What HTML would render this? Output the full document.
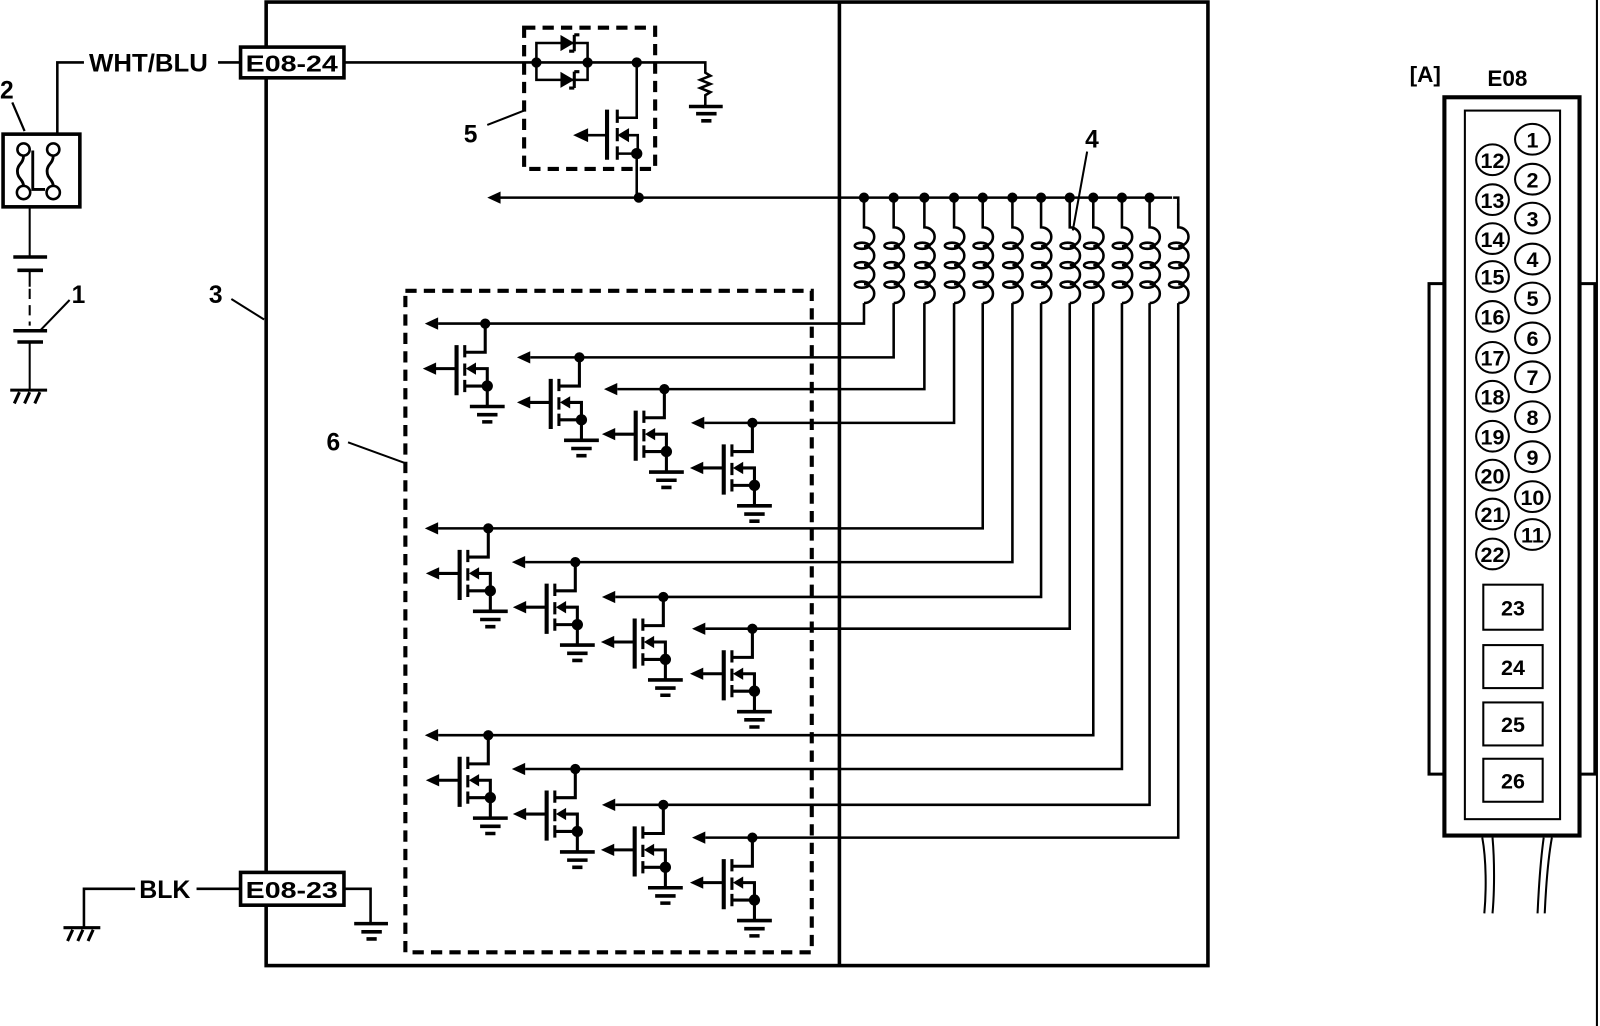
<!DOCTYPE html>
<html><head><meta charset="utf-8"><style>
html,body{margin:0;padding:0;background:#fff;}
svg{display:block;}
text{font-family:"Liberation Sans",sans-serif;font-weight:bold;fill:#000;}
</style></head><body>
<svg width="1600" height="1026" viewBox="0 0 1563 1002" preserveAspectRatio="none" xmlns="http://www.w3.org/2000/svg">
<defs>
<g id="fet" stroke="#000" fill="none">
  <path d="M0,0 V28 H-20" stroke-width="3"/>
  <line x1="-28" y1="21" x2="-28" y2="70" stroke-width="4"/>
  <path d="M-20,21 V33 M-20,39 V51 M-20,55 V67" stroke-width="3"/>
  <path d="M-10,44 H2 V61 H-20" stroke-width="3"/>
  <polygon points="-19,44 -9,38 -9,50" fill="#000" stroke="none"/>
  <path d="M-28,44 H-50" stroke-width="3"/>
  <polygon points="-61,44 -48,38 -48,50" fill="#000" stroke="none"/>
  <circle cx="0" cy="0" r="5" fill="#000" stroke="none"/>
  <circle cx="2" cy="61" r="5.5" fill="#000" stroke="none"/>
  <path d="M2,61 V81" stroke-width="3"/>
  <path d="M-15,81 H19 M-8,89 H12 M-3,96 H7" stroke-width="3.5"/>
</g>
<g id="coil" stroke="#000" fill="none" stroke-width="2.5">
  <path d="M0,0 V29 a10 9.25 0 0 1 0 18.5 a10 9.25 0 0 1 0 18.5 a10 9.25 0 0 1 0 18.5 a10 9.25 0 0 1 0 18.5"/>
  <ellipse cx="-2" cy="47" rx="7" ry="3"/>
  <ellipse cx="-2" cy="66" rx="7" ry="3"/>
  <ellipse cx="-2" cy="85" rx="7" ry="3"/>
  <circle cx="0" cy="0" r="5" fill="#000" stroke="none"/>
</g>
<polygon id="arr" points="0,0 13,-6 13,6" fill="#000"/>
</defs>

<g stroke="#000" fill="none">
<rect x="260" y="2" width="920" height="941" stroke-width="3.5"/>
<line x1="820" y1="2" x2="820" y2="943" stroke-width="3.5"/>
<line x1="1560" y1="0" x2="1560" y2="1002" stroke-width="2"/>

<path d="M56,130 V61 H82 M213,61 H234" stroke-width="2.5"/>
<rect x="3" y="131" width="75" height="71" stroke-width="3.5"/>
<circle cx="23" cy="146" r="6" stroke-width="2.5"/>
<circle cx="52" cy="146" r="6" stroke-width="2.5"/>
<circle cx="23" cy="188" r="6.5" stroke-width="2.5"/>
<circle cx="52" cy="188" r="6.5" stroke-width="2.5"/>
<path d="M23,152 c0,8 -6,8 -6,15 c0,8 6,8 6,15 M52,152 c0,8 -6,8 -6,15 c0,8 6,8 6,15 M32,147 V185 H44" stroke-width="2.8"/>
<line x1="12" y1="100" x2="24" y2="128" stroke-width="2.2"/>
<path d="M29,202 V251 M29,264 V280" stroke-width="2"/>
<path d="M13,251 H46 M17,264 H42 M13,323 H46 M17,334 H42" stroke-width="3.5"/>
<path d="M29,282 V318" stroke-width="2" stroke-dasharray="10,6"/>
<path d="M29,334 V381" stroke-width="2"/>
<path d="M40,322 L68,293" stroke-width="2"/>
<path d="M10,381 H46 M14,394 L19,383 M24,394 L29,383 M34,394 L39,383" stroke-width="3"/>

<path d="M336,61 H689 V71 l5,3 -10,4 10,4 -10,4 10,4 -5,3 V104" stroke-width="2.5"/>
<rect x="235" y="46" width="101" height="30" stroke-width="3.5" fill="#fff"/>
<path d="M673,104 H706 M680,111 H700 M685,118 H695" stroke-width="3.5"/>

<rect x="512" y="27" width="128" height="138" stroke-width="4" stroke-dasharray="11,7"/>
<path d="M524,61 V42 H574 V78 H524 Z" stroke-width="2.5"/>
<polygon points="548,35 560,42 548,49" fill="#000"/>
<polygon points="548,71 560,78 548,85" fill="#000"/>
<path d="M561,34 V50 M561,34 H566 M561,50 H556 M561,70 V86 M561,70 H566 M561,86 H556" stroke-width="3"/>
<path d="M622,61 V115 H603" stroke-width="2.5"/>
<line x1="593" y1="107" x2="593" y2="156" stroke-width="4"/>
<path d="M603,107 V120 M603,125 V138 M603,143 V156" stroke-width="3"/>
<path d="M612,132 H623 V150 H603" stroke-width="2.5"/>
<polygon points="604,132 614,126 614,138" fill="#000"/>
<path d="M593,132 H572" stroke-width="2.5"/>
<polygon points="561,132 574,126 574,138" fill="#000"/>
<path d="M622,150 V193" stroke-width="2.5"/>
<line x1="476" y1="122" x2="512" y2="108" stroke-width="2"/>

<path d="M488,193 H1151 V222" stroke-width="2.5"/>

<rect x="396" y="284" width="397" height="646" stroke-width="4" stroke-dasharray="11,7"/>
<line x1="340" y1="432" x2="395" y2="452" stroke-width="2"/>
<line x1="226" y1="292" x2="258" y2="312" stroke-width="2"/>
<line x1="1062" y1="148" x2="1048" y2="225" stroke-width="2"/>

<g stroke-width="2.5">
<path d="M844,296 V316 H428"/>
<path d="M873,296 V349 H518"/>
<path d="M903,296 V380 H603"/>
<path d="M932,296 V413 H688"/>
<path d="M960,296 V516 H428"/>
<path d="M989,296 V549 H513"/>
<path d="M1017,296 V583 H601"/>
<path d="M1045,296 V614 H689"/>
<path d="M1068,296 V718 H428"/>
<path d="M1096,296 V751 H513"/>
<path d="M1123,296 V786 H601"/>
<path d="M1151,296 V818 H689"/>
</g>

<path d="M82,905 V868 H132 M192,868 H234 M336,868 H362 V902" stroke-width="2.5"/>
<rect x="235" y="852" width="101" height="32" stroke-width="3.5" fill="#fff"/>
<path d="M346,902 H379 M353,910 H373 M358,917 H368" stroke-width="3.5"/>
<path d="M62,906 H98 M66,919 L71,908 M76,919 L81,908 M86,919 L91,908" stroke-width="3"/>

<rect x="1411" y="95" width="132" height="721" stroke-width="4"/>
<rect x="1431" y="108" width="93" height="692" stroke-width="2"/>
<path d="M1411,277 H1396 V756 H1411 M1543,277 H1558 V756 H1543" stroke-width="3"/>
<path d="M1448,818 C1452,840 1452,870 1450,892 M1458,818 C1460,840 1460,870 1458,892 M1508,818 C1505,840 1503,870 1502,892 M1516,818 C1512,840 1510,870 1509,892" stroke-width="2"/>
<g stroke-width="2">
<rect x="1449" y="571" width="58" height="44"/>
<rect x="1449" y="630" width="58" height="42"/>
<rect x="1449" y="686" width="58" height="42"/>
<rect x="1449" y="741" width="58" height="42"/>
</g>
<g stroke-width="2">
<ellipse cx="1497" cy="136" rx="17" ry="15"/><ellipse cx="1497" cy="175" rx="17" ry="15"/>
<ellipse cx="1497" cy="213" rx="17" ry="15"/><ellipse cx="1497" cy="253" rx="17" ry="15"/>
<ellipse cx="1497" cy="291" rx="17" ry="15"/><ellipse cx="1497" cy="330" rx="17" ry="15"/>
<ellipse cx="1497" cy="368" rx="17" ry="15"/><ellipse cx="1497" cy="407" rx="17" ry="15"/>
<ellipse cx="1497" cy="446" rx="17" ry="15"/><ellipse cx="1497" cy="485" rx="17" ry="15"/>
<ellipse cx="1497" cy="522" rx="17" ry="15"/>
<ellipse cx="1458" cy="156" rx="16" ry="15"/><ellipse cx="1458" cy="195" rx="16" ry="15"/>
<ellipse cx="1458" cy="233" rx="16" ry="15"/><ellipse cx="1458" cy="270" rx="16" ry="15"/>
<ellipse cx="1458" cy="309" rx="16" ry="15"/><ellipse cx="1458" cy="349" rx="16" ry="15"/>
<ellipse cx="1458" cy="387" rx="16" ry="15"/><ellipse cx="1458" cy="426" rx="16" ry="15"/>
<ellipse cx="1458" cy="464" rx="16" ry="15"/><ellipse cx="1458" cy="502" rx="16" ry="15"/>
<ellipse cx="1458" cy="541" rx="16" ry="15"/>
</g>
</g>

<circle cx="524" cy="61" r="5"/><circle cx="574" cy="61" r="5"/><circle cx="622" cy="61" r="5"/>
<circle cx="622" cy="150" r="5.5"/><circle cx="624" cy="193" r="5"/>
<use href="#arr" x="476" y="193"/>
<use href="#arr" x="415" y="316"/><use href="#arr" x="505" y="349"/>
<use href="#arr" x="590" y="380"/><use href="#arr" x="675" y="413"/>
<use href="#arr" x="415" y="516"/><use href="#arr" x="500" y="549"/>
<use href="#arr" x="588" y="583"/><use href="#arr" x="676" y="614"/>
<use href="#arr" x="415" y="718"/><use href="#arr" x="500" y="751"/>
<use href="#arr" x="588" y="786"/><use href="#arr" x="676" y="818"/>

<use href="#coil" x="844" y="193"/><use href="#coil" x="873" y="193"/>
<use href="#coil" x="903" y="193"/><use href="#coil" x="932" y="193"/>
<use href="#coil" x="960" y="193"/><use href="#coil" x="989" y="193"/>
<use href="#coil" x="1017" y="193"/><use href="#coil" x="1045" y="193"/>
<use href="#coil" x="1068" y="193"/><use href="#coil" x="1096" y="193"/>
<use href="#coil" x="1123" y="193"/><use href="#coil" x="1151" y="193"/>
<circle cx="1151" cy="193" r="6" fill="#fff"/>
<path d="M1146,193 H1151 V200" stroke="#000" stroke-width="2.5" fill="none"/>

<use href="#fet" x="474" y="316"/><use href="#fet" x="566" y="349"/>
<use href="#fet" x="649" y="380"/><use href="#fet" x="735" y="413"/>
<use href="#fet" x="477" y="516"/><use href="#fet" x="562" y="549"/>
<use href="#fet" x="648" y="583"/><use href="#fet" x="735" y="614"/>
<use href="#fet" x="477" y="718"/><use href="#fet" x="562" y="751"/>
<use href="#fet" x="648" y="786"/><use href="#fet" x="735" y="818"/>

<text x="87" y="70" font-size="24" textLength="116" lengthAdjust="spacingAndGlyphs">WHT/BLU</text>
<text x="240" y="70" font-size="23" textLength="90" lengthAdjust="spacingAndGlyphs">E08-24</text>
<text x="240" y="877" font-size="23" textLength="90" lengthAdjust="spacingAndGlyphs">E08-23</text>
<text x="136" y="877" font-size="24" textLength="50" lengthAdjust="spacingAndGlyphs">BLK</text>
<text x="0" y="96" font-size="24">2</text>
<text x="70" y="296" font-size="24" font-weight="normal">1</text>
<text x="204" y="296" font-size="24">3</text>
<text x="453" y="139" font-size="24">5</text>
<text x="319" y="440" font-size="24">6</text>
<text x="1060" y="144" font-size="24">4</text>
<text x="1377" y="80" font-size="22">[A]</text>
<text x="1453" y="84" font-size="22">E08</text>
<g font-size="21" text-anchor="middle">
<text x="1497" y="144">1</text><text x="1497" y="183">2</text><text x="1497" y="221">3</text>
<text x="1497" y="261">4</text><text x="1497" y="299">5</text><text x="1497" y="338">6</text>
<text x="1497" y="376">7</text><text x="1497" y="415">8</text><text x="1497" y="454">9</text>
<text x="1497" y="493">10</text><text x="1497" y="530">11</text>
<text x="1458" y="164">12</text><text x="1458" y="203">13</text><text x="1458" y="241">14</text>
<text x="1458" y="278">15</text><text x="1458" y="317">16</text><text x="1458" y="357">17</text>
<text x="1458" y="395">18</text><text x="1458" y="434">19</text><text x="1458" y="472">20</text>
<text x="1458" y="510">21</text><text x="1458" y="549">22</text>
<text x="1478" y="601">23</text><text x="1478" y="659">24</text>
<text x="1478" y="715">25</text><text x="1478" y="770">26</text>
</g>
</svg>
</body></html>
